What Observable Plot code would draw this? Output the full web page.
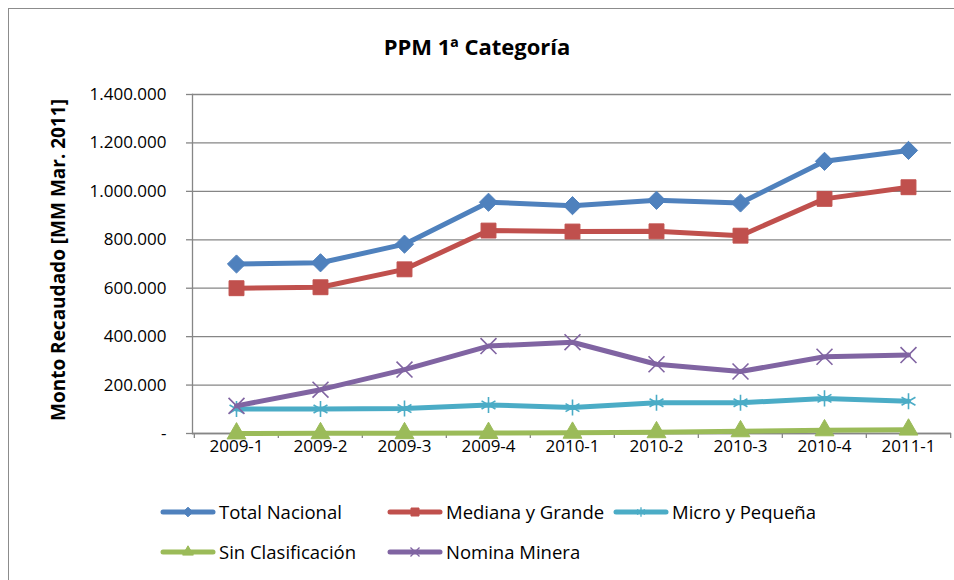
<!DOCTYPE html>
<html><head><meta charset="utf-8">
<script src="https://cdn.jsdelivr.net/npm/d3@7"></script>
<script src="https://cdn.jsdelivr.net/npm/@observablehq/plot@0.6"></script>
<style>
body{margin:0;background:#fff;font-family:"Open Sans",Lato,sans-serif;color:#000;}
#wrap{position:relative;width:954px;height:580px;overflow:hidden;background:#fff;}
#frame{position:absolute;left:8px;top:8px;width:980px;height:620px;border:1px solid #8c8c8c;}
#chart{position:absolute;left:0;top:0;}
#title{position:absolute;left:0;width:954px;top:31px;text-align:center;font-weight:bold;font-size:22px;line-height:30px;}
#ylab{position:absolute;left:58px;top:260px;transform:translate(-50%,-50%) rotate(-90deg);font-weight:bold;font-size:19px;white-space:nowrap;}
.leg{position:absolute;display:flex;align-items:center;font-size:18.5px;line-height:22px;}
.leg svg{margin-right:3px;}
</style></head><body>
<div id="wrap">
  <div id="frame"></div>
  <div id="chart"></div>
  <div id="title">PPM 1ª Categoría</div>
  <div id="ylab">Monto Recaudado [MM Mar. 2011]</div>
  <div id="legend"></div>
</div>
<script>
const categories = ["2009-1","2009-2","2009-3","2009-4","2010-1","2010-2","2010-3","2010-4","2011-1"];
const totalNacional    = [700000, 705000, 782000, 955000, 941000, 963000, 952000, 1124000, 1169000];
const medianaYGrande   = [600000, 604000, 678000, 838000, 834000, 835000, 817000, 969000, 1017000];
const microYPequena    = [101000, 101000, 103000, 118000, 107000, 127000, 127000, 145000, 133000];
const sinClasificacion = [0, 1000, 1000, 2000, 3000, 5000, 9000, 13000, 16000];
const nominaMinera     = [114000, 181000, 264000, 361000, 377000, 286000, 256000, 317000, 324000];
const yTicks = [0, 200000, 400000, 600000, 800000, 1000000, 1200000, 1400000];
const seriesNames = ["Total Nacional","Mediana y Grande","Micro y Pequeña","Sin Clasificación","Nomina Minera"];
const seriesColors = ["#4F81BD","#C0504D","#4BACC6","#9BBB59","#8064A2"];
const seriesSymbols = ["diamond2","square","asterisk","triangle","times"];
const seriesValues = [totalNacional, medianaYGrande, microYPequena, sinClasificacion, nominaMinera];
const symbolR = [8.2, 8.4, 7.6, 7.0, 7.3];
const filled = [true, true, false, true, false];

const W = 954, H = 475, ML = 192, MR = 3, MT = 94, MB = 42;
const step = (W - ML - MR) / categories.length;
const fmt = d => d === 0 ? "-" : d3.format(",")(d).replace(/,/g, ".");

const marks = [
  Plot.gridY(yTicks, {stroke: "#868686", strokeOpacity: 1, strokeWidth: 1.3}),
  Plot.frame({anchor: "left", stroke: "#868686", strokeWidth: 1.3}),
  Plot.ruleY([0], {stroke: "#868686", strokeWidth: 1.3}),
  Plot.axisY(yTicks, {tickFormat: fmt, tickSize: 6, tickPadding: 20, fontSize: 17, stroke: "#868686", strokeWidth: 1.3, label: null}),
  Plot.axisX(categories, {tickSize: 0, tickPadding: 6, fontSize: 17, label: null}),
  Plot.axisX(categories, {tickSize: 5, tickFormat: () => "", dx: -step / 2, stroke: "#868686", strokeWidth: 1.3, label: null}),
  Plot.axisX([categories[categories.length - 1]], {tickSize: 5, tickFormat: () => "", dx: step / 2, stroke: "#868686", strokeWidth: 1.3, label: null})
];

seriesNames.forEach((name, i) => {
  const rows = categories.map((c, j) => ({cat: c, value: seriesValues[i][j], series: name}));
  marks.push(Plot.line(rows, {x: "cat", y: "value", stroke: seriesColors[i], strokeWidth: 5, strokeLinejoin: "round", strokeLinecap: "round"}));
  marks.push(Plot.dot(rows, {
    x: "cat", y: "value", symbol: seriesSymbols[i], r: symbolR[i],
    fill: filled[i] ? seriesColors[i] : "none",
    stroke: seriesColors[i], strokeWidth: filled[i] ? 1 : 1.6
  }));
});

const chart = Plot.plot({
  width: W, height: H,
  marginLeft: ML, marginRight: MR, marginTop: MT, marginBottom: MB,
  style: {fontFamily: "'Open Sans', Lato, sans-serif", color: "#000", background: "transparent"},
  x: {type: "point", domain: categories, padding: 0.5, axis: null, label: null},
  y: {domain: [0, 1400000], axis: null, label: null},
  marks
});
document.getElementById("chart").appendChild(chart);

// legend
const legendPos = [[160, 512], [387, 512], [613, 512], [160, 552], [387, 552]];
const symMap = {diamond2: d3.symbolDiamond2, square: d3.symbolSquare, asterisk: d3.symbolAsterisk, triangle: d3.symbolTriangle, times: d3.symbolTimes};
const legSizes = [60, 64, 60, 50, 55];
const legend = d3.select("#legend");
seriesNames.forEach((name, i) => {
  const item = legend.append("div").attr("class", "leg")
    .style("left", legendPos[i][0] + "px").style("top", (legendPos[i][1] - 11) + "px");
  const svg = item.append("svg").attr("width", 56).attr("height", 20);
  svg.append("line").attr("x1", 3).attr("x2", 53).attr("y1", 10).attr("y2", 10)
    .attr("stroke", seriesColors[i]).attr("stroke-width", 5).attr("stroke-linecap", "round");
  svg.append("path").attr("transform", "translate(28,10)")
    .attr("d", d3.symbol(symMap[seriesSymbols[i]], legSizes[i])())
    .attr("fill", filled[i] ? seriesColors[i] : "none")
    .attr("stroke", seriesColors[i]).attr("stroke-width", filled[i] ? 1 : 1.3);
  item.append("span").text(name);
});
</script>
</body></html>
